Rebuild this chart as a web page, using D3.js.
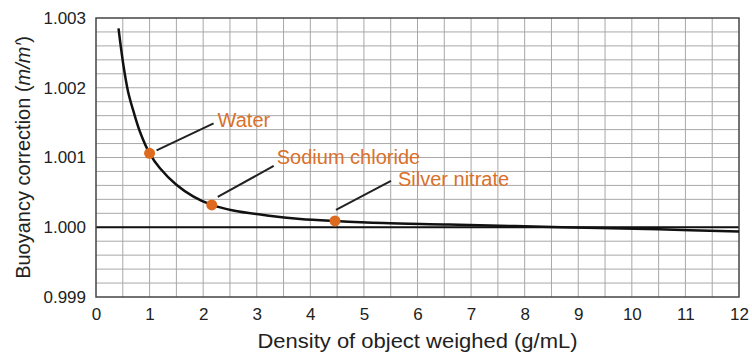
<!DOCTYPE html>
<html><head><meta charset="utf-8">
<script src="https://cdn.jsdelivr.net/npm/d3@7"></script>
<style>body{margin:0;background:#fff;}svg{display:block;font-family:"Liberation Sans",Arial,sans-serif;}</style>
</head><body><svg id="c" width="752" height="353"></svg>
<script>
// Data
const curveDensity = [0.42,0.51,0.60,0.70,0.82,1.0,1.19,1.5,1.82,2.16,2.56,3.19,3.81,4.46,5.36,6.58,8.7,10.5,12];
const curveValue   = [1.00285,1.00233,1.00194,1.00166,1.00137,1.00106,1.00085,1.00061,1.00044,1.00032,1.00024,1.00017,1.00012,1.00009,1.00006,1.00004,1.00000,0.99997,0.99994];
const substances = ["Water","Sodium chloride","Silver nitrate"];
const substanceDensity = [1.0,2.16,4.46];
const substanceValue = [1.00106,1.00032,1.00009];
const xTicks = [0,1,2,3,4,5,6,7,8,9,10,11,12];
const yTicks = [0.999,1.000,1.001,1.002,1.003];
const xTitle = "Density of object weighed (g/mL)";

const svg = d3.select("#c");
const L=96,R=739,T=18,B=297;
const x = d3.scaleLinear().domain([0,12]).range([L,R]);
const y = d3.scaleLinear().domain([0.999,1.003]).range([B,T]);

// grid
const g = svg.append("g");
g.selectAll("line.v").data(d3.range(0.5,12,0.5)).join("line")
  .attr("x1",d=>x(d)).attr("x2",d=>x(d)).attr("y1",T).attr("y2",B)
  .attr("stroke","#a8a8a8").attr("stroke-width",1);
g.selectAll("line.h").data(d3.range(1,20).map(i=>0.999+i*0.0002)).join("line")
  .attr("y1",d=>y(d)).attr("y2",d=>y(d)).attr("x1",L).attr("x2",R)
  .attr("stroke","#a8a8a8").attr("stroke-width",1);
// baseline 1.000
svg.append("line").attr("x1",L).attr("x2",R).attr("y1",y(1.000)).attr("y2",y(1.000))
  .attr("stroke","#111").attr("stroke-width",2);
// border
svg.append("rect").attr("x",L).attr("y",T).attr("width",R-L).attr("height",B-T)
  .attr("fill","none").attr("stroke","#444").attr("stroke-width",1.5);

// axes
const xa = svg.append("g").attr("transform",`translate(0,${B})`)
  .call(d3.axisBottom(x).tickValues(xTicks).tickSize(0).tickPadding(11).tickFormat(d3.format("d")));
xa.select(".domain").remove();
xa.selectAll("text").attr("font-size",17).attr("fill","#222").attr("font-family","Liberation Sans, Arial, sans-serif");
const ya = svg.append("g").attr("transform",`translate(${L},0)`)
  .call(d3.axisLeft(y).tickValues(yTicks).tickSize(0).tickPadding(10).tickFormat(d3.format(".3f")));
ya.select(".domain").remove();
ya.selectAll("text").attr("font-size",17).attr("fill","#222").attr("font-family","Liberation Sans, Arial, sans-serif");

svg.append("text").attr("x",(L+R)/2).attr("y",348).attr("text-anchor","middle")
  .attr("font-size",20).attr("textLength",320).attr("lengthAdjust","spacingAndGlyphs")
  .attr("fill","#222").text(xTitle);
const yt = svg.append("text").attr("transform",`translate(30,${(T+B)/2}) rotate(-90)`)
  .attr("text-anchor","middle").attr("font-size",20).attr("fill","#222");
yt.append("tspan").text("Buoyancy correction (");
yt.append("tspan").attr("font-style","italic").text("m/m′");
yt.append("tspan").text(")");

// curve
const pts = curveDensity.map((d,i)=>[d,curveValue[i]]);
svg.append("path").datum(pts)
  .attr("d",d3.line().x(d=>x(d[0])).y(d=>y(d[1])).curve(d3.curveCatmullRom.alpha(0.5)))
  .attr("fill","none").attr("stroke","#111").attr("stroke-width",2.5);

// labels (leader offsets relative to the point)
const orange="#d9712c";
const lead0=[[7,-3],[6,-8],[1,-11]];
const lead1=[[64,-30],[62,-39],[56,-40]];
const textOff=[[4,4],[3,-2],[7,5]];
substances.forEach((s,i)=>{
  const px=x(substanceDensity[i]), py=y(substanceValue[i]);
  const ex=px+lead1[i][0], ey=py+lead1[i][1];
  svg.append("line").attr("x1",px+lead0[i][0]).attr("y1",py+lead0[i][1]).attr("x2",ex).attr("y2",ey)
    .attr("stroke","#222").attr("stroke-width",2);
  svg.append("text").attr("x",ex+textOff[i][0]).attr("y",ey+textOff[i][1])
    .attr("font-size",20).attr("fill",orange).text(s);
  svg.append("circle").attr("cx",px).attr("cy",py).attr("r",5.5).attr("fill","#dd6a1f");
});
</script></body></html>
